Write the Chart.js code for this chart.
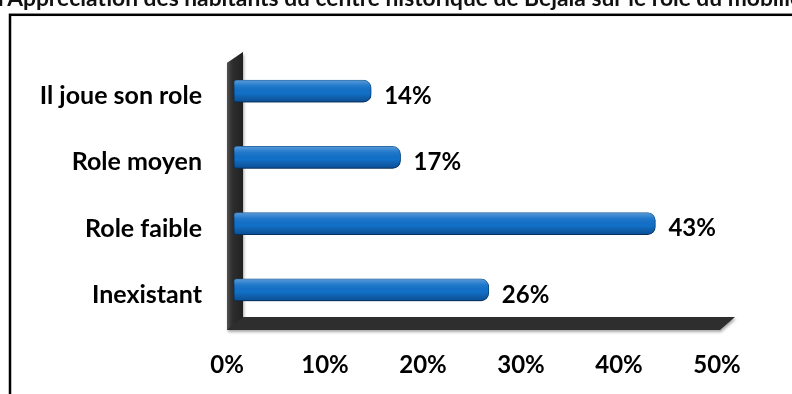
<!DOCTYPE html>
<html><head><meta charset="utf-8">
<script src="https://cdn.jsdelivr.net/npm/chart.js@4"></script>
<style>html,body{margin:0;padding:0;background:#fff}#wrap{width:792px;height:394px}</style>
</head><body><div id="wrap"><canvas id="c" width="792" height="394"></canvas></div>
<script>
const titleText = "l'Appréciation des habitants du centre historique de Béjaïa sur le rôle du mobilier urbain";
const categories = ['Il joue son role', 'Role moyen', 'Role faible', 'Inexistant'];
const values = [14, 17, 43, 26];
const xMin = 0, xMax = 50, xStep = 10;

const FONT = 'Lato, "Open Sans", sans-serif';

const decor = {
  id: 'decor',
  beforeDatasetsDraw(chart) {
    const ctx = chart.ctx, a = chart.chartArea, xs = chart.scales.x;
    const x0 = xs.getPixelForValue(xMin), x1 = xs.getPixelForValue(xMax);
    const wl = x0 - 7, wr = x0 + 9;
    ctx.save();
    ctx.shadowColor = 'rgba(0,0,0,0.35)'; ctx.shadowBlur = 3; ctx.shadowOffsetX = 1; ctx.shadowOffsetY = 2;
    ctx.beginPath();
    ctx.moveTo(wl, a.top + 5);
    ctx.lineTo(wr, a.top - 6);
    ctx.lineTo(wr, a.bottom - 6);
    ctx.lineTo(x1 + 11, a.bottom - 6);
    ctx.lineTo(x1 - 4, a.bottom + 7);
    ctx.lineTo(wl, a.bottom + 7);
    ctx.closePath();
    ctx.fillStyle = '#2e2e2e';
    ctx.fill();
    ctx.restore();
    ctx.save();
    const g = ctx.createLinearGradient(wl, 0, wr, 0);
    g.addColorStop(0, 'rgba(90,90,90,0.9)'); g.addColorStop(0.5, 'rgba(30,30,30,0.2)'); g.addColorStop(1, 'rgba(0,0,0,0.3)');
    ctx.fillStyle = g;
    ctx.beginPath();
    ctx.moveTo(wl, a.top + 5); ctx.lineTo(wr, a.top - 6); ctx.lineTo(wr, a.bottom - 6); ctx.lineTo(wl, a.bottom + 7); ctx.closePath();
    ctx.fill();
    ctx.restore();
    ctx.save();
    ctx.shadowColor = 'rgba(0,0,0,0.35)'; ctx.shadowBlur = 3; ctx.shadowOffsetY = 2;
  },
  afterDatasetsDraw(chart) {
    const ctx = chart.ctx;
    ctx.restore();
    const meta = chart.getDatasetMeta(0);
    ctx.save();
    meta.data.forEach((bar, i) => {
      const h = bar.height, top = bar.y - h / 2, left = bar.base, w = bar.x - bar.base;
      const g = ctx.createLinearGradient(0, top, 0, top + h);
      g.addColorStop(0, 'rgba(255,255,255,0.30)');
      g.addColorStop(0.25, 'rgba(255,255,255,0.08)');
      g.addColorStop(0.6, 'rgba(0,0,0,0)');
      g.addColorStop(1, 'rgba(0,20,60,0.35)');
      ctx.fillStyle = g;
      ctx.beginPath();
      ctx.roundRect(left, top, w, h, [3, 8, 8, 3]);
      ctx.fill();
      ctx.fillStyle = '#000';
      ctx.font = 'bold 24px ' + FONT;
      ctx.textAlign = 'left'; ctx.textBaseline = 'middle';
      ctx.fillText(values[i] + '%', bar.x + 13, bar.y + 5);
    });
    ctx.restore();
  },
  afterDraw(chart) {
    const ctx = chart.ctx;
    ctx.save();
    ctx.strokeStyle = '#000'; ctx.lineWidth = 2.5;
    ctx.strokeRect(10, 14.8, 900, 500);
    ctx.fillStyle = '#111';
    ctx.font = 'bold 22.8px ' + FONT;
    ctx.textAlign = 'left'; ctx.textBaseline = 'alphabetic';
    ctx.fillText(titleText, -2, 5.5);
    ctx.restore();
  }
};

new Chart(document.getElementById('c'), {
  type: 'bar',
  data: {
    labels: categories,
    datasets: [{
      data: values,
      backgroundColor: '#1270C8',
      borderColor: '#0b5499',
      borderWidth: 1,
      borderSkipped: false,
      borderRadius: {topLeft: 3, bottomLeft: 3, topRight: 8, bottomRight: 8},
      barThickness: 22
    }]
  },
  options: {
    indexAxis: 'y',
    responsive: false,
    animation: false,
    events: [],
    layout: {padding: {left: 0, top: 58, right: 68, bottom: 0}},
    plugins: {legend: {display: false}, tooltip: {enabled: false}, title: {display: false}},
    scales: {
      x: {
        min: xMin, max: xMax,
        grid: {display: false, drawTicks: false},
        border: {display: false},
        afterFit(s) { s.height = 71; },
        ticks: {stepSize: xStep, padding: 28, labelOffset: -7, color: '#000', font: {family: FONT, size: 24, weight: 'bold'},
          callback: v => v + '%'}
      },
      y: {
        grid: {display: false, drawTicks: false},
        border: {display: false},
        afterFit(s) { s.width = 234; },
        ticks: {padding: 32, labelOffset: 5, color: '#000', font: {family: FONT, size: 25, weight: 'bold'}}
      }
    }
  },
  plugins: [decor]
});
</script>
</body></html>
